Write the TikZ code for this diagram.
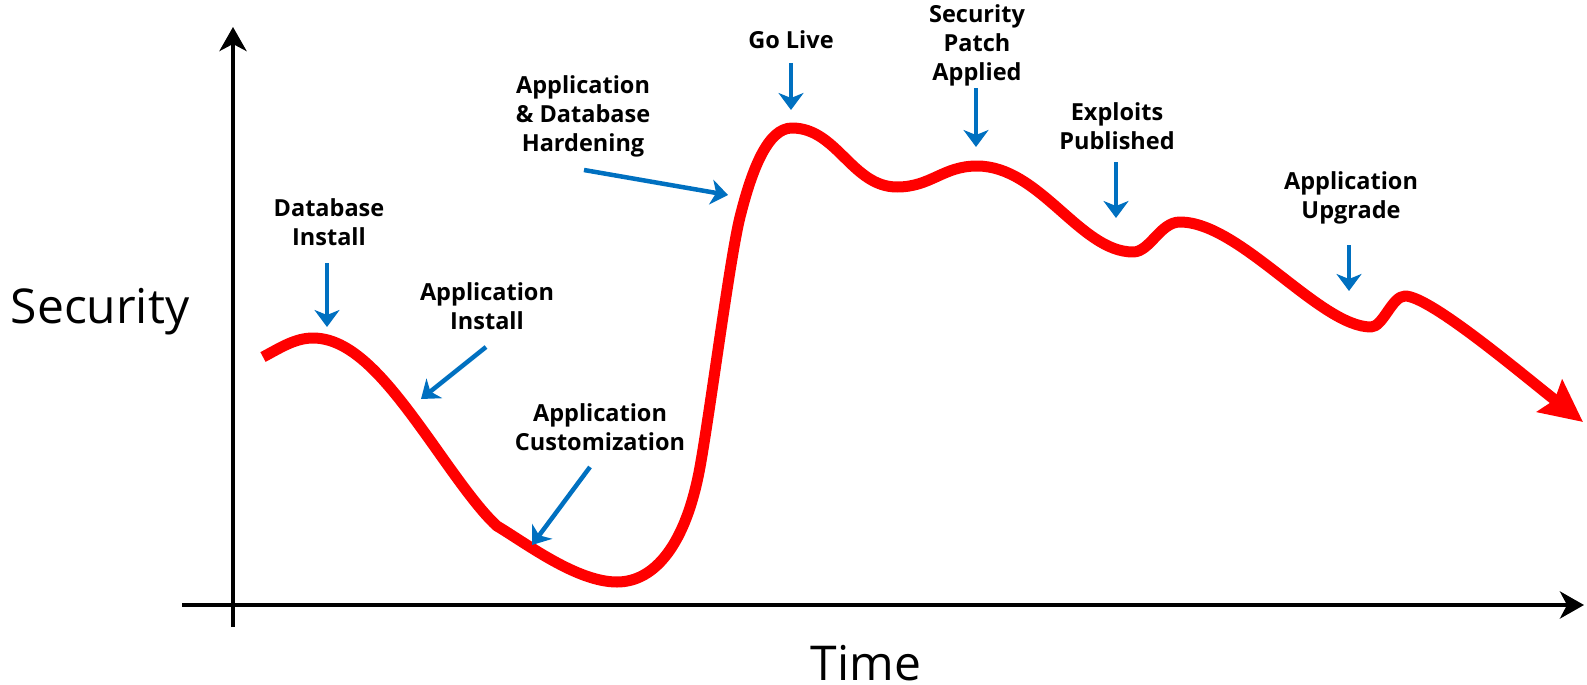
\documentclass[tikz,border=0pt]{standalone}
\usepackage{fontspec}
\setmainfont{Open Sans}
\usetikzlibrary{arrows.meta}
\definecolor{callout}{HTML}{0070C0}
\definecolor{curvered}{HTML}{FF0000}
\begin{document}
\begin{tikzpicture}[x=1pt,y=-1pt,
  axis/.style={line width=4.5pt,-{Stealth[length=24pt,width=27pt,inset=7pt]}},
  callarrow/.style={callout,line width=4.5pt,-{Stealth[length=17pt,width=25pt,inset=5pt]}},
  lbl/.style={font=\fontsize{23.5}{29}\selectfont\bfseries,align=center,inner sep=0pt},
  axlbl/.style={font=\fontsize{48}{52}\selectfont,inner sep=0pt,anchor=base},
  trend/.style={curvered,line width=11pt,line join=round,-{Stealth[length=42pt,width=40pt,inset=6pt]}}]
\useasboundingbox (0,0) rectangle (1587,685);

% axes
\coordinate (ybot) at (233,627);
\coordinate (ytop) at (233,27);
\coordinate (xleft) at (182,605);
\coordinate (xright) at (1584,605);
\draw[axis] (ybot) -- (ytop);
\draw[axis] (xleft) -- (xright);
\node[axlbl] (ylab) at (100,323) {Security};
\node[axlbl] (xlab) at (866,680) {Time};

% security level over time
\coordinate (c0) at (263,357);
\coordinate (c1) at (313,338);
\coordinate (c2) at (432,443);
\coordinate (c3) at (497,526);
\coordinate (c4) at (617,582);
\coordinate (c5) at (700,467);
\coordinate (c6) at (740,217);
\coordinate (c7) at (792,128);
\coordinate (c8) at (897,187);
\coordinate (c9) at (977,166);
\coordinate (c10) at (1133,252);
\coordinate (c11) at (1180,222);
\coordinate (c12) at (1371,327);
\coordinate (c13) at (1405,296);
\coordinate (c14) at (1583,422);
\draw[trend] (c0)
  .. controls (280,348) and (295,338) .. (c1)
  .. controls (355,338) and (392,387) .. (c2)
  .. controls (454,474) and (479,510) .. (c3)
  .. controls (527,544) and (577,582) .. (c4)
  .. controls (655,582) and (686,544) .. (c5)
  .. controls (710,412) and (730,257) .. (c6)
  .. controls (752,169) and (768,128) .. (c7)
  .. controls (837,128) and (852,187) .. (c8)
  .. controls (931,187) and (943,166) .. (c9)
  .. controls (1040,166) and (1080,252) .. (c10)
  .. controls (1150,252) and (1160,222) .. (c11)
  .. controls (1240,222) and (1320,327) .. (c12)
  .. controls (1383,327) and (1392,296) .. (c13)
  .. controls (1430,296) and (1523,375) .. (c14);

% event labels
\node[lbl] (dbi) at (329,222) {Database\\Install};
\node[lbl] (api) at (487,306) {Application\\Install};
\node[lbl] (apc) at (600,427) {Application\\Customization};
\node[lbl] (har) at (583,116) {Application\\\& Database\\Hardening};
\node[lbl] (gol) at (791,40) {Go Live};
\node[lbl] (spa) at (977,45) {Security\\Patch\\Applied};
\node[lbl] (exp) at (1117,126) {Exploits\\Published};
\node[lbl] (upg) at (1351,198) {Application\\Upgrade};

% callout arrows
\coordinate (dbi-s) at (327,263);  \coordinate (dbi-e) at (327,327);
\coordinate (api-s) at (486,347);  \coordinate (api-e) at (421,399);
\coordinate (apc-s) at (590,467);  \coordinate (apc-e) at (532,545);
\coordinate (har-s) at (584,170);  \coordinate (har-e) at (728,195);
\coordinate (gol-s) at (791,63);   \coordinate (gol-e) at (791,110);
\coordinate (spa-s) at (976,88);   \coordinate (spa-e) at (976,147);
\coordinate (exp-s) at (1116,162); \coordinate (exp-e) at (1116,218);
\coordinate (upg-s) at (1349,245); \coordinate (upg-e) at (1349,291);
\foreach \n in {dbi,api,apc,har,gol,spa,exp,upg}
  \draw[callarrow] (\n-s) -- (\n-e);
\end{tikzpicture}
\end{document}
